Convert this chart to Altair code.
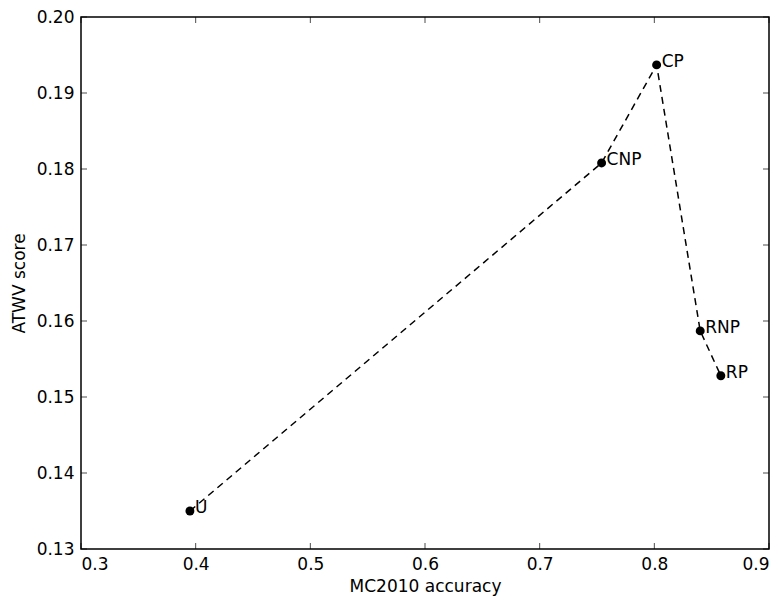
import altair as alt
import pandas as pd

names = ["U", "CNP", "CP", "RNP", "RP"]
accuracy = [0.395, 0.754, 0.802, 0.840, 0.858]
atwv = [0.1350, 0.1808, 0.1937, 0.1587, 0.1528]
x_ticks = [0.3, 0.4, 0.5, 0.6, 0.7, 0.8, 0.9]
y_ticks = [0.13, 0.14, 0.15, 0.16, 0.17, 0.18, 0.19, 0.20]

W, H = 688, 532
FONT = "DejaVu Sans"

df = pd.DataFrame({"acc": accuracy, "atwv": atwv, "name": names, "order": list(range(len(names)))})
xt = pd.DataFrame({"acc": x_ticks})
yt = pd.DataFrame({"atwv": y_ticks})

xs = alt.Scale(domain=[0.3, 0.9], nice=False, zero=False)
ys = alt.Scale(domain=[0.13, 0.20], nice=False, zero=False)
x_axis = alt.Axis(values=x_ticks, format=".1f", title="MC2010 accuracy")
y_axis = alt.Axis(values=y_ticks, format=".2f", title="ATWV score")

X = alt.X("acc:Q", scale=xs, axis=x_axis)
Y = alt.Y("atwv:Q", scale=ys, axis=y_axis)

line = alt.Chart(df).mark_line(color="black", strokeDash=[7, 5], strokeWidth=1.5).encode(
    x=X, y=Y, order="order:Q"
)
points = alt.Chart(df).mark_point(filled=True, color="black", size=80, opacity=1).encode(x=X, y=Y)
labels = alt.Chart(df).mark_text(
    align="left", baseline="alphabetic", dx=5, dy=2, fontSize=17, font=FONT, color="black"
).encode(x=X, y=Y, text="name:N")

tick_bottom = alt.Chart(xt).mark_tick(orient="vertical", size=6, thickness=1, color="black").encode(
    x=X, y=alt.value(H - 3)
)
tick_top = alt.Chart(xt).mark_tick(orient="vertical", size=6, thickness=1, color="black").encode(
    x=X, y=alt.value(3)
)
tick_left = alt.Chart(yt).mark_tick(orient="horizontal", size=6, thickness=1, color="black").encode(
    y=Y, x=alt.value(3)
)
tick_right = alt.Chart(yt).mark_tick(orient="horizontal", size=6, thickness=1, color="black").encode(
    y=Y, x=alt.value(W - 3)
)

chart = alt.layer(line, points, labels, tick_bottom, tick_top, tick_left, tick_right).properties(
    width=W, height=H,
    autosize=alt.AutoSizeParams(type="none"),
    padding={"left": 73, "top": 9, "right": 5, "bottom": 50},
).configure_view(
    stroke="black", strokeWidth=1.5
).configure_axis(
    domain=False, ticks=False, grid=False,
    labelFont=FONT, labelFontSize=17, labelColor="black", labelPadding=7,
    titleFont=FONT, titleFontSize=17, titleFontWeight="normal", titleColor="black",
).configure_axisX(titlePadding=6).configure_axisY(titlePadding=8)

chart.save("out.html", embed_options={"renderer": "svg", "actions": False})
